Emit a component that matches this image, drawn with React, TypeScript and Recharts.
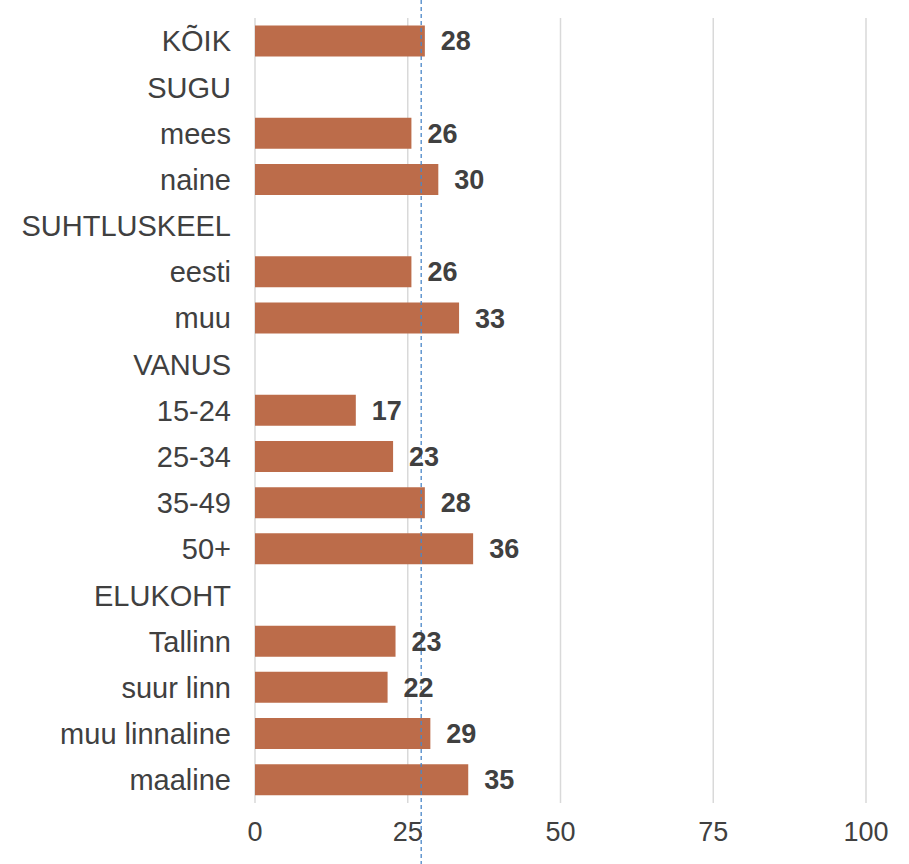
import React from "react";
import { BarChart, Bar, XAxis, YAxis, CartesianGrid, ReferenceLine, LabelList } from "recharts";

const categories = [
  "KÕIK",
  "SUGU",
  "mees",
  "naine",
  "SUHTLUSKEEL",
  "eesti",
  "muu",
  "VANUS",
  "15-24",
  "25-34",
  "35-49",
  "50+",
  "ELUKOHT",
  "Tallinn",
  "suur linn",
  "muu linnaline",
  "maaline",
];
// share (%)
const values: (number | null)[] = [
  27.8, null, 25.6, 30.0, null, 25.6, 33.4, null, 16.5, 22.6, 27.8, 35.7, null, 23.0, 21.7, 28.7, 34.9,
];
// printed labels
const labels: (string | null)[] = [
  "28", null, "26", "30", null, "26", "33", null, "17", "23", "28", "36", null, "23", "22", "29", "35",
];
const xTicks = [0, 25, 50, 75, 100];
const average = 27.2;

const data = categories.map((name, i) => ({ name, value: values[i], label: labels[i] }));

const FONT = "'Liberation Sans', Arial, Helvetica, sans-serif";

function FullHeightLine(props: any) {
  const x = props.x1;
  return (
    <line x1={x} x2={x} y1={0} y2={864} stroke="#4A86C8" strokeWidth={1.3} strokeDasharray="4 3" />
  );
}

export default function App() {
  return (
    <div style={{ position: "absolute", left: 0, top: 0, background: "#fff" }}>
      <BarChart
        width={909}
        height={864}
        data={data}
        layout="vertical"
        margin={{ top: 18, right: 43, bottom: 21, left: 0 }}
        barCategoryGap="16%"
      >
        <CartesianGrid horizontal={false} stroke="#D9D9D9" strokeWidth={1.5} />
        <XAxis
          type="number"
          domain={[0, 100]}
          ticks={xTicks}
          axisLine={false}
          tickLine={false}
          height={40}
          tickMargin={13}
          tick={{ fill: "#404040", fontSize: 27, fontFamily: FONT }}
        />
        <YAxis
          type="category"
          dataKey="name"
          width={255}
          axisLine={false}
          tickLine={false}
          tickMargin={18}
          interval={0}
          tick={{ fill: "#404040", fontSize: 29, fontFamily: FONT }}
        />
        <Bar dataKey="value" fill="#BC6C4A" isAnimationActive={false}>
          <LabelList
            dataKey="label"
            position="right"
            offset={16}
            fill="#404040"
            fontSize={27}
            fontWeight="bold"
            fontFamily={FONT}
          />
        </Bar>
        <ReferenceLine x={average} ifOverflow="visible" shape={FullHeightLine} />
      </BarChart>
    </div>
  );
}
